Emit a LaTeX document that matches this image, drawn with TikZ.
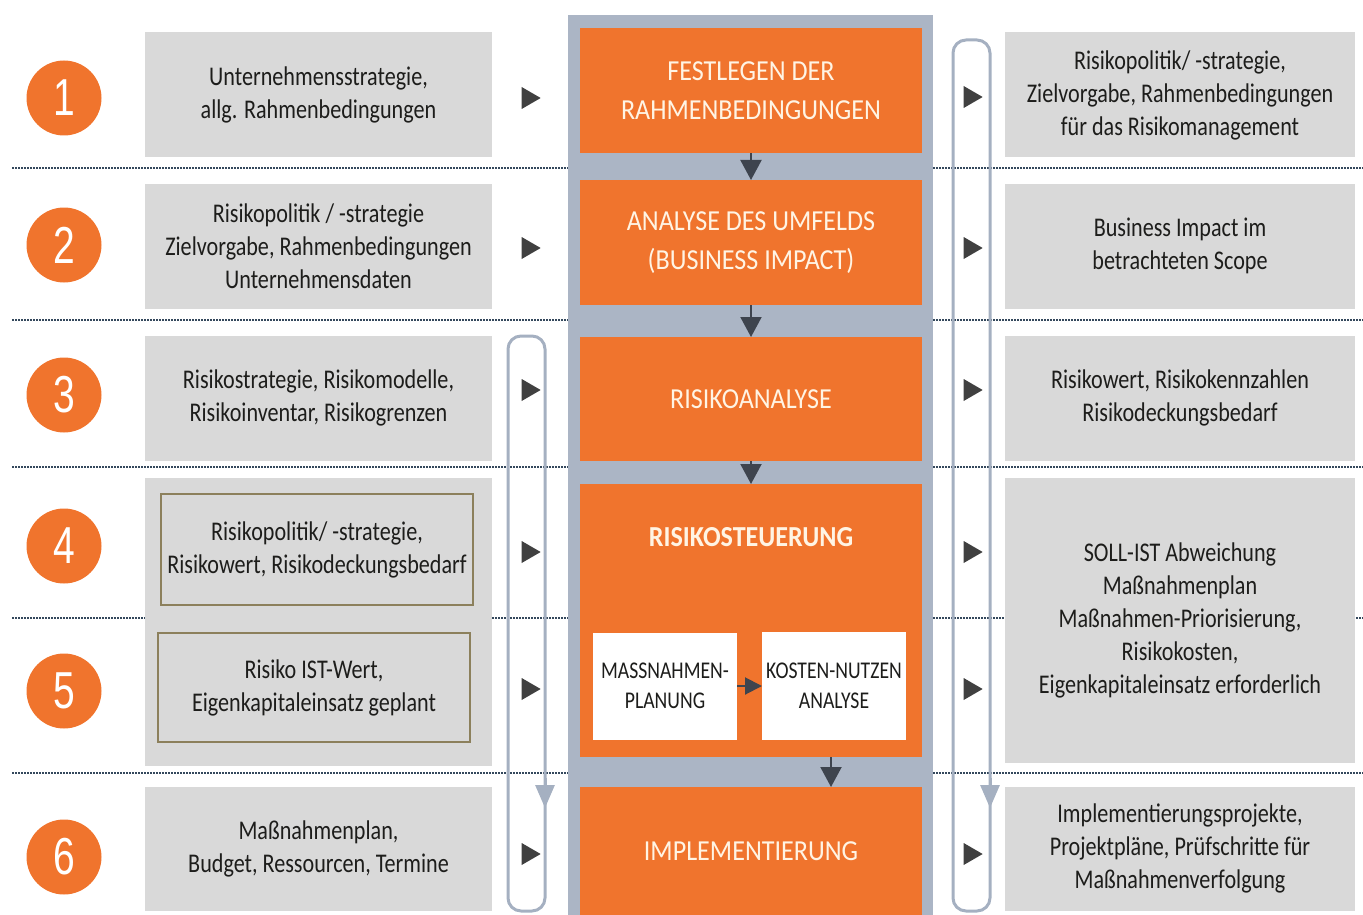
\documentclass[tikz,border=0pt]{standalone}
\usepackage{fontspec}
\setmainfont{Carlito}
\newfontfamily\boxfont{Carlito}[FakeStretch=0.82]
\newfontfamily\stagefont{Carlito}[FakeStretch=0.9]
\newfontfamily\numfont{Liberation Sans}[FakeStretch=0.75]
\usetikzlibrary{positioning,arrows.meta,shapes.geometric}
\definecolor{colorstage}{RGB}{240,116,45}
\definecolor{colorbox}{RGB}{217,217,217}
\definecolor{colorcolumn}{RGB}{171,181,197}
\definecolor{colorloop}{RGB}{165,176,193}
\definecolor{colortri}{RGB}{64,64,64}
\definecolor{colorflow}{RGB}{62,68,78}
\definecolor{colordots}{RGB}{52,72,92}
\definecolor{colorframe}{RGB}{140,128,92}
\definecolor{colorstagetext}{RGB}{255,244,228}
\definecolor{colortext}{RGB}{29,29,27}

\begin{document}
\begin{tikzpicture}[
    x=1pt, y=-1pt,
    font={\boxfont\fontsize{27}{33}\selectfont},
    info/.style={fill=colorbox,text=colortext,align=center,inner sep=0pt,outer sep=0pt,minimum width=347pt,minimum height=125pt},
    result/.style={info,minimum width=350pt},
    framed/.style={info,draw=colorframe,line width=2pt,minimum width=312pt},
    stage/.style={fill=colorstage,text=colorstagetext,align=center,inner sep=0pt,outer sep=0pt,minimum width=342pt,minimum height=125pt,font={\stagefont\fontsize{29}{39}\selectfont}},
    measure/.style={fill=white,text=colortext,align=center,inner sep=0pt,outer sep=0pt,minimum width=144pt,minimum height=107pt,font={\boxfont\fontsize{24}{30}\selectfont}},
    num/.style={circle,fill=colorstage,text=white,inner sep=0pt,minimum size=75pt,font={\numfont\fontsize{52}{52}\selectfont}},
    tri/.style={isosceles triangle,isosceles triangle stretches,fill=colortri,inner sep=0pt,minimum width=22pt,minimum height=19pt},
    loopframe/.style={draw=colorloop,line width=3pt,rounded corners=13pt,minimum width=37pt},
    looptip/.style={draw=colorloop,line width=3pt,-{Triangle[width=19pt,length=23pt]}},
    flow/.style={draw=colorflow,line width=2pt,-{Triangle[width=21pt,length=20pt]}},
    sep/.style={draw=colordots,line width=1.5pt,dash pattern=on 1.5pt off 1.5pt},
]
    \useasboundingbox (0,0) rectangle (1363,915);

    % Row separators
    \draw[sep] (12,168) -- (1363,168);
    \draw[sep] (12,320) -- (1363,320);
    \draw[sep] (12,467) -- (1363,467);
    \draw[sep] (12,618) -- (1363,618);
    \draw[sep] (12,773) -- (1363,773);

    % Process column
    \node[fill=colorcolumn,inner sep=0pt,minimum width=365pt,minimum height=900pt] (column) at (750.5,465) {};

    \node[stage] (st1) at (751,90.5) {FESTLEGEN DER\\RAHMENBEDINGUNGEN};
    \node[stage, below=27pt of st1] (st2) {ANALYSE DES UMFELDS\\(BUSINESS IMPACT)};
    \node[stage, below=32pt of st2, minimum height=124pt] (st3) {RISIKOANALYSE};
    \node[stage, below=23pt of st3, minimum height=273pt] (st4) {};
    \node[stage, below=30pt of st4, minimum height=128pt] (st6) {IMPLEMENTIERUNG};

    \node[stage, fill=none, minimum width=0pt, minimum height=0pt, font={\stagefont\bfseries\fontsize{29}{39}\selectfont}] (st4title) at (751,537) {RISIKOSTEUERUNG};
    \node[measure] (plan) at (665,686) {MASSNAHMEN-\\PLANUNG};
    \node[measure, minimum height=108pt] (cost) at (834,686) {KOSTEN-NUTZEN\\ANALYSE};

    % Inputs
    \node[info] (in1) at (318.5,95) {Unternehmensstrategie,\\allg. Rahmenbedingungen};
    \node[info, below=26pt of in1] (in2) {Risikopolitik / -strategie\\Zielvorgabe, Rahmenbedingungen\\Unternehmensdaten};
    \node[info, below=27pt of in2] (in3) {Risikostrategie, Risikomodelle,\\Risikoinventar, Risikogrenzen};
    \node[info, below=17pt of in3, minimum height=288pt] (in45) {};
    \node[info, below=21pt of in45, minimum height=124pt] (in6) {Maßnahmenplan,\\Budget, Ressourcen, Termine};
    \node[framed, minimum height=111pt] (in4) at (317,549.5) {Risikopolitik/ -strategie,\\Risikowert, Risikodeckungsbedarf};
    \node[framed, minimum height=109pt] (in5) at (314,687.5) {Risiko IST-Wert,\\Eigenkapitaleinsatz geplant};

    % Results
    \node[result] (out1) at (1180,95) {Risikopolitik/ -strategie,\\Zielvorgabe, Rahmenbedingungen\\für das Risikomanagement};
    \node[result, below=26pt of out1] (out2) {Business Impact im\\betrachteten Scope};
    \node[result, below=27pt of out2] (out3) {Risikowert, Risikokennzahlen\\Risikodeckungsbedarf};
    \node[result, below=17pt of out3, minimum height=285pt] (out45) {SOLL-IST Abweichung\\Maßnahmenplan\\Maßnahmen-Priorisierung,\\Risikokosten,\\Eigenkapitaleinsatz erforderlich};
    \node[result, below=24pt of out45, minimum height=124pt] (out6) {Implementierungsprojekte,\\Projektpläne, Prüfschritte für\\Maßnahmenverfolgung};

    % Step numbers
    \node[num] (n1) at (64,98) {1};
    \node[num] (n2) at (64,245) {2};
    \node[num] (n3) at (64,395) {3};
    \node[num] (n4) at (64,546) {4};
    \node[num] (n5) at (64,691) {5};
    \node[num] (n6) at (64,857) {6};

    % Pointers
    \node[tri] (l1) at (528,98) {};
    \node[tri] (l2) at (528,248) {};
    \node[tri] (l3) at (528,390) {};
    \node[tri] (l4) at (528,552) {};
    \node[tri] (l5) at (528,689) {};
    \node[tri] (l6) at (528,854) {};
    \node[tri] (r1) at (970,97) {};
    \node[tri] (r2) at (970,248) {};
    \node[tri] (r3) at (970,390) {};
    \node[tri] (r4) at (970,552) {};
    \node[tri] (r5) at (970,689) {};
    \node[tri] (r6) at (970,854) {};

    % Feedback loops
    \node[loopframe, minimum height=575pt] (lloop) at (526.5,623.5) {};
    \node[loopframe, minimum height=871pt] (rloop) at (971.5,475.5) {};
    \coordinate (lloopdown) at (545,808);
    \coordinate (rloopdown) at (990,808);
    \draw[looptip] ([yshift=30pt]lloopdown) -- (lloopdown);
    \draw[looptip] ([yshift=30pt]rloopdown) -- (rloopdown);

    % Process flow
    \draw[flow] (st1) -- (st2);
    \draw[flow] (st2) -- (st3);
    \draw[flow] (st3) -- (st4);
    \draw[flow] ([xshift=-3pt]st4.south -| cost) -- ([xshift=-3pt]st6.north -| cost);
    \draw[flow, -{Triangle[width=17pt,length=17pt]}] (plan) -- (cost);

\end{tikzpicture}
\end{document}
